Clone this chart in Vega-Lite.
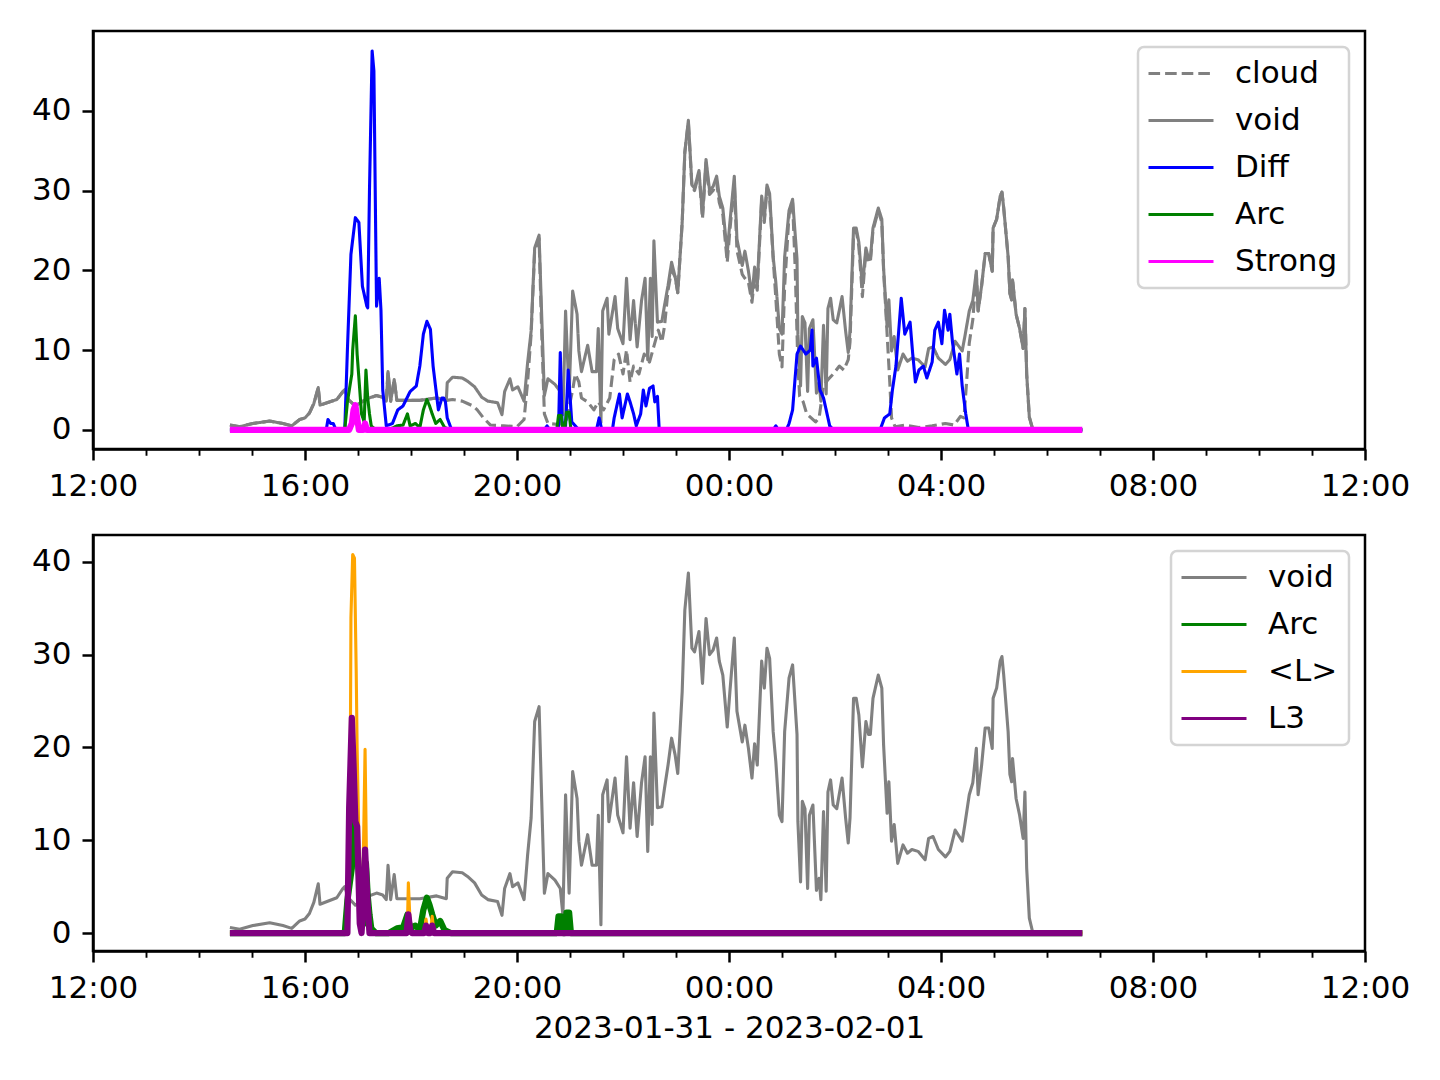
{
"$schema": "https://vega.github.io/schema/vega-lite/v6.json",
"padding": 29,
"background": "white",
"config": {
 "font": "DejaVu Sans",
 "view": {"stroke": "black", "strokeWidth": 2.5},
 "axis": {"labelFont": "DejaVu Sans", "labelFontSize": 31, "labelColor": "black", "domainColor": "black", "domainWidth": 2.5, "tickColor": "black", "tickWidth": 2.5, "tickSize": 11, "labelPadding": 11, "grid": false, "titleFont": "DejaVu Sans", "titleFontSize": 31, "titleFontWeight": "normal", "titleColor": "black"},
 "legend": {"orient": "top-right", "offset": 16, "padding": 11, "fillColor": "white", "strokeColor": "#d4d4d4", "strokeWidth": 2.5, "cornerRadius": 6, "labelFont": "DejaVu Sans", "labelFontSize": 31, "labelColor": "black", "rowPadding": 15, "labelOffset": 55, "symbolSize": 400, "symbolStrokeWidth": 3.1},
 "line": {"strokeJoin": "round", "strokeCap": "butt"}
},
"spacing": 30,
"data": {"values": [
{"s":"cloud","t":"2023-01-31T14:35","v":0.6},{"s":"cloud","t":"2023-01-31T14:46","v":0.4},{"s":"cloud","t":"2023-01-31T15:01","v":0.8},{"s":"cloud","t":"2023-01-31T15:20","v":1.1},{"s":"cloud","t":"2023-01-31T15:35","v":0.8},{"s":"cloud","t":"2023-01-31T15:45","v":0.5},{"s":"cloud","t":"2023-01-31T15:54","v":1.3},{"s":"cloud","t":"2023-01-31T16:00","v":1.5},{"s":"cloud","t":"2023-01-31T16:05","v":2.1},{"s":"cloud","t":"2023-01-31T16:10","v":3.3},{"s":"cloud","t":"2023-01-31T16:15","v":5.3},{"s":"cloud","t":"2023-01-31T16:17","v":3.1},{"s":"cloud","t":"2023-01-31T16:25","v":3.4},{"s":"cloud","t":"2023-01-31T16:36","v":3.8},{"s":"cloud","t":"2023-01-31T16:43","v":4.8},{"s":"cloud","t":"2023-01-31T16:45","v":5.0},{"s":"cloud","t":"2023-01-31T16:49","v":3.8},{"s":"cloud","t":"2023-01-31T16:57","v":3.0},{"s":"cloud","t":"2023-01-31T17:10","v":3.9},{"s":"cloud","t":"2023-01-31T17:21","v":4.3},{"s":"cloud","t":"2023-01-31T17:28","v":4.1},{"s":"cloud","t":"2023-01-31T17:32","v":3.6},{"s":"cloud","t":"2023-01-31T17:34","v":7.3},{"s":"cloud","t":"2023-01-31T17:37","v":3.6},{"s":"cloud","t":"2023-01-31T17:41","v":6.3},{"s":"cloud","t":"2023-01-31T17:44","v":3.7},{"s":"cloud","t":"2023-01-31T18:10","v":3.7},{"s":"cloud","t":"2023-01-31T18:29","v":4.0},{"s":"cloud","t":"2023-01-31T18:40","v":3.7},{"s":"cloud","t":"2023-01-31T18:47","v":3.8},{"s":"cloud","t":"2023-01-31T18:58","v":3.6},{"s":"cloud","t":"2023-01-31T19:04","v":3.3},{"s":"cloud","t":"2023-01-31T19:10","v":3.0},{"s":"cloud","t":"2023-01-31T19:15","v":2.5},{"s":"cloud","t":"2023-01-31T19:22","v":1.5},{"s":"cloud","t":"2023-01-31T19:30","v":0.6},{"s":"cloud","t":"2023-01-31T19:45","v":0.5},{"s":"cloud","t":"2023-01-31T20:00","v":0.4},{"s":"cloud","t":"2023-01-31T20:08","v":1.3},{"s":"cloud","t":"2023-01-31T20:12","v":6},{"s":"cloud","t":"2023-01-31T20:16","v":12},{"s":"cloud","t":"2023-01-31T20:20","v":22.5},{"s":"cloud","t":"2023-01-31T20:25","v":24},{"s":"cloud","t":"2023-01-31T20:28","v":12},{"s":"cloud","t":"2023-01-31T20:31","v":2},{"s":"cloud","t":"2023-01-31T20:35","v":0.8},{"s":"cloud","t":"2023-01-31T20:45","v":0.7},{"s":"cloud","t":"2023-01-31T20:55","v":0.8},{"s":"cloud","t":"2023-01-31T21:03","v":5},{"s":"cloud","t":"2023-01-31T21:06","v":7},{"s":"cloud","t":"2023-01-31T21:10","v":6},{"s":"cloud","t":"2023-01-31T21:13","v":4},{"s":"cloud","t":"2023-01-31T21:20","v":3.5},{"s":"cloud","t":"2023-01-31T21:27","v":2.5},{"s":"cloud","t":"2023-01-31T21:32","v":3.5},{"s":"cloud","t":"2023-01-31T21:38","v":2.5},{"s":"cloud","t":"2023-01-31T21:45","v":4},{"s":"cloud","t":"2023-01-31T21:50","v":8.8},{"s":"cloud","t":"2023-01-31T21:55","v":9.5},{"s":"cloud","t":"2023-01-31T22:00","v":7},{"s":"cloud","t":"2023-01-31T22:04","v":10},{"s":"cloud","t":"2023-01-31T22:08","v":6},{"s":"cloud","t":"2023-01-31T22:12","v":8},{"s":"cloud","t":"2023-01-31T22:18","v":7},{"s":"cloud","t":"2023-01-31T22:24","v":9.5},{"s":"cloud","t":"2023-01-31T22:30","v":8.5},{"s":"cloud","t":"2023-01-31T22:35","v":10.5},{"s":"cloud","t":"2023-01-31T22:40","v":12.5},{"s":"cloud","t":"2023-01-31T22:44","v":11},{"s":"cloud","t":"2023-01-31T22:47","v":13},{"s":"cloud","t":"2023-01-31T22:51","v":17.5},{"s":"cloud","t":"2023-01-31T22:55","v":20},{"s":"cloud","t":"2023-01-31T22:59","v":19.2},{"s":"cloud","t":"2023-01-31T23:02","v":17.2},{"s":"cloud","t":"2023-01-31T23:07","v":26.0},{"s":"cloud","t":"2023-01-31T23:10","v":34.8},{"s":"cloud","t":"2023-01-31T23:14","v":38.6},{"s":"cloud","t":"2023-01-31T23:18","v":30.5},{"s":"cloud","t":"2023-01-31T23:21","v":30.0},{"s":"cloud","t":"2023-01-31T23:26","v":32.2},{"s":"cloud","t":"2023-01-31T23:30","v":26.5},{"s":"cloud","t":"2023-01-31T23:34","v":33.5},{"s":"cloud","t":"2023-01-31T23:38","v":29.5},{"s":"cloud","t":"2023-01-31T23:42","v":30.0},{"s":"cloud","t":"2023-01-31T23:46","v":31.0},{"s":"cloud","t":"2023-01-31T23:49","v":28.5},{"s":"cloud","t":"2023-01-31T23:53","v":27.0},{"s":"cloud","t":"2023-01-31T23:58","v":21.0},{"s":"cloud","t":"2023-02-01T00:01","v":25.0},{"s":"cloud","t":"2023-02-01T00:06","v":31.0},{"s":"cloud","t":"2023-02-01T00:09","v":22.5},{"s":"cloud","t":"2023-02-01T00:15","v":19.5},{"s":"cloud","t":"2023-02-01T00:18","v":19.0},{"s":"cloud","t":"2023-02-01T00:22","v":18.5},{"s":"cloud","t":"2023-02-01T00:26","v":16.0},{"s":"cloud","t":"2023-02-01T00:29","v":19.0},{"s":"cloud","t":"2023-02-01T00:32","v":17.5},{"s":"cloud","t":"2023-02-01T00:37","v":28.8},{"s":"cloud","t":"2023-02-01T00:40","v":26.0},{"s":"cloud","t":"2023-02-01T00:43","v":30.3},{"s":"cloud","t":"2023-02-01T00:46","v":29.0},{"s":"cloud","t":"2023-02-01T00:50","v":21.5},{"s":"cloud","t":"2023-02-01T00:53","v":16.5},{"s":"cloud","t":"2023-02-01T00:57","v":9.5},{"s":"cloud","t":"2023-02-01T01:00","v":7.9},{"s":"cloud","t":"2023-02-01T01:03","v":18.0},{"s":"cloud","t":"2023-02-01T01:08","v":27.0},{"s":"cloud","t":"2023-02-01T01:12","v":28.5},{"s":"cloud","t":"2023-02-01T01:15","v":20.0},{"s":"cloud","t":"2023-02-01T01:18","v":8.0},{"s":"cloud","t":"2023-02-01T01:20","v":4.2},{"s":"cloud","t":"2023-02-01T01:24","v":3.5},{"s":"cloud","t":"2023-02-01T01:28","v":2.0},{"s":"cloud","t":"2023-02-01T01:33","v":1.5},{"s":"cloud","t":"2023-02-01T01:38","v":1.0},{"s":"cloud","t":"2023-02-01T01:42","v":1.5},{"s":"cloud","t":"2023-02-01T01:47","v":5.5},{"s":"cloud","t":"2023-02-01T01:52","v":6.3},{"s":"cloud","t":"2023-02-01T01:58","v":7.0},{"s":"cloud","t":"2023-02-01T02:05","v":8.0},{"s":"cloud","t":"2023-02-01T02:10","v":7.5},{"s":"cloud","t":"2023-02-01T02:15","v":8.8},{"s":"cloud","t":"2023-02-01T02:17","v":11.0},{"s":"cloud","t":"2023-02-01T02:21","v":24.5},{"s":"cloud","t":"2023-02-01T02:24","v":25.0},{"s":"cloud","t":"2023-02-01T02:27","v":23.0},{"s":"cloud","t":"2023-02-01T02:31","v":16.7},{"s":"cloud","t":"2023-02-01T02:35","v":22.5},{"s":"cloud","t":"2023-02-01T02:38","v":21.0},{"s":"cloud","t":"2023-02-01T02:40","v":21.0},{"s":"cloud","t":"2023-02-01T02:43","v":25.0},{"s":"cloud","t":"2023-02-01T02:49","v":27.5},{"s":"cloud","t":"2023-02-01T02:53","v":26.0},{"s":"cloud","t":"2023-02-01T02:55","v":20.0},{"s":"cloud","t":"2023-02-01T02:59","v":12.0},{"s":"cloud","t":"2023-02-01T03:02","v":6.0},{"s":"cloud","t":"2023-02-01T03:04","v":1.5},{"s":"cloud","t":"2023-02-01T03:08","v":0.4},{"s":"cloud","t":"2023-02-01T03:20","v":0.6},{"s":"cloud","t":"2023-02-01T03:35","v":0.3},{"s":"cloud","t":"2023-02-01T03:50","v":0.5},{"s":"cloud","t":"2023-02-01T04:05","v":0.8},{"s":"cloud","t":"2023-02-01T04:15","v":0.6},{"s":"cloud","t":"2023-02-01T04:22","v":1.7},{"s":"cloud","t":"2023-02-01T04:26","v":1.5},{"s":"cloud","t":"2023-02-01T04:29","v":6.0},{"s":"cloud","t":"2023-02-01T04:32","v":10.9},{"s":"cloud","t":"2023-02-01T04:36","v":13.8},{"s":"cloud","t":"2023-02-01T04:40","v":19.5},{"s":"cloud","t":"2023-02-01T04:42","v":14.9},{"s":"cloud","t":"2023-02-01T04:46","v":18.1},{"s":"cloud","t":"2023-02-01T04:50","v":22.1},{"s":"cloud","t":"2023-02-01T04:54","v":22.1},{"s":"cloud","t":"2023-02-01T04:58","v":19.9},{"s":"cloud","t":"2023-02-01T04:59","v":25.3},{"s":"cloud","t":"2023-02-01T05:03","v":26.4},{"s":"cloud","t":"2023-02-01T05:07","v":29.3},{"s":"cloud","t":"2023-02-01T05:09","v":29.8},{"s":"cloud","t":"2023-02-01T05:11","v":27.8},{"s":"cloud","t":"2023-02-01T05:16","v":21.7},{"s":"cloud","t":"2023-02-01T05:18","v":17.1},{"s":"cloud","t":"2023-02-01T05:20","v":16.3},{"s":"cloud","t":"2023-02-01T05:21","v":18.8},{"s":"cloud","t":"2023-02-01T05:25","v":14.5},{"s":"cloud","t":"2023-02-01T05:29","v":12.7},{"s":"cloud","t":"2023-02-01T05:33","v":10.2},{"s":"cloud","t":"2023-02-01T05:35","v":15.2},{"s":"cloud","t":"2023-02-01T05:37","v":7.0},{"s":"cloud","t":"2023-02-01T05:40","v":1.6},{"s":"cloud","t":"2023-02-01T05:44","v":0},{"s":"cloud","t":"2023-02-01T06:40","v":0},
{"s":"void","t":"2023-01-31T14:35","v":0.6},{"s":"void","t":"2023-01-31T14:46","v":0.4},{"s":"void","t":"2023-01-31T15:01","v":0.8},{"s":"void","t":"2023-01-31T15:20","v":1.1},{"s":"void","t":"2023-01-31T15:35","v":0.8},{"s":"void","t":"2023-01-31T15:45","v":0.5},{"s":"void","t":"2023-01-31T15:54","v":1.3},{"s":"void","t":"2023-01-31T16:00","v":1.5},{"s":"void","t":"2023-01-31T16:05","v":2.1},{"s":"void","t":"2023-01-31T16:10","v":3.3},{"s":"void","t":"2023-01-31T16:15","v":5.3},{"s":"void","t":"2023-01-31T16:17","v":3.1},{"s":"void","t":"2023-01-31T16:25","v":3.4},{"s":"void","t":"2023-01-31T16:36","v":3.8},{"s":"void","t":"2023-01-31T16:43","v":4.8},{"s":"void","t":"2023-01-31T16:45","v":5.0},{"s":"void","t":"2023-01-31T16:49","v":3.8},{"s":"void","t":"2023-01-31T16:57","v":3.0},{"s":"void","t":"2023-01-31T17:10","v":3.9},{"s":"void","t":"2023-01-31T17:21","v":4.3},{"s":"void","t":"2023-01-31T17:28","v":4.1},{"s":"void","t":"2023-01-31T17:32","v":3.6},{"s":"void","t":"2023-01-31T17:34","v":7.3},{"s":"void","t":"2023-01-31T17:37","v":3.6},{"s":"void","t":"2023-01-31T17:41","v":6.3},{"s":"void","t":"2023-01-31T17:44","v":3.7},{"s":"void","t":"2023-01-31T18:10","v":3.7},{"s":"void","t":"2023-01-31T18:29","v":4.0},{"s":"void","t":"2023-01-31T18:40","v":3.7},{"s":"void","t":"2023-01-31T18:41","v":5.9},{"s":"void","t":"2023-01-31T18:47","v":6.6},{"s":"void","t":"2023-01-31T18:58","v":6.5},{"s":"void","t":"2023-01-31T19:04","v":6.1},{"s":"void","t":"2023-01-31T19:12","v":5.4},{"s":"void","t":"2023-01-31T19:20","v":4.1},{"s":"void","t":"2023-01-31T19:27","v":3.6},{"s":"void","t":"2023-01-31T19:38","v":3.4},{"s":"void","t":"2023-01-31T19:43","v":1.9},{"s":"void","t":"2023-01-31T19:46","v":4.8},{"s":"void","t":"2023-01-31T19:52","v":6.4},{"s":"void","t":"2023-01-31T19:55","v":5.0},{"s":"void","t":"2023-01-31T20:01","v":5.4},{"s":"void","t":"2023-01-31T20:08","v":3.6},{"s":"void","t":"2023-01-31T20:12","v":8.4},{"s":"void","t":"2023-01-31T20:16","v":12.4},{"s":"void","t":"2023-01-31T20:20","v":22.8},{"s":"void","t":"2023-01-31T20:25","v":24.4},{"s":"void","t":"2023-01-31T20:28","v":14.2},{"s":"void","t":"2023-01-31T20:31","v":4.3},{"s":"void","t":"2023-01-31T20:35","v":6.4},{"s":"void","t":"2023-01-31T20:43","v":5.7},{"s":"void","t":"2023-01-31T20:49","v":4.8},{"s":"void","t":"2023-01-31T20:52","v":1.9},{"s":"void","t":"2023-01-31T20:55","v":14.9},{"s":"void","t":"2023-01-31T20:59","v":4.3},{"s":"void","t":"2023-01-31T21:03","v":17.4},{"s":"void","t":"2023-01-31T21:08","v":14.5},{"s":"void","t":"2023-01-31T21:10","v":9.9},{"s":"void","t":"2023-01-31T21:13","v":7.3},{"s":"void","t":"2023-01-31T21:20","v":10.6},{"s":"void","t":"2023-01-31T21:25","v":7.3},{"s":"void","t":"2023-01-31T21:30","v":7.3},{"s":"void","t":"2023-01-31T21:32","v":12.7},{"s":"void","t":"2023-01-31T21:35","v":0.9},{"s":"void","t":"2023-01-31T21:37","v":14.9},{"s":"void","t":"2023-01-31T21:42","v":16.5},{"s":"void","t":"2023-01-31T21:44","v":12.0},{"s":"void","t":"2023-01-31T21:51","v":16.7},{"s":"void","t":"2023-01-31T21:54","v":12.7},{"s":"void","t":"2023-01-31T22:00","v":10.8},{"s":"void","t":"2023-01-31T22:04","v":19.0},{"s":"void","t":"2023-01-31T22:08","v":11.3},{"s":"void","t":"2023-01-31T22:12","v":16.2},{"s":"void","t":"2023-01-31T22:16","v":10.4},{"s":"void","t":"2023-01-31T22:21","v":16.2},{"s":"void","t":"2023-01-31T22:25","v":19.0},{"s":"void","t":"2023-01-31T22:28","v":8.8},{"s":"void","t":"2023-01-31T22:31","v":19.0},{"s":"void","t":"2023-01-31T22:33","v":11.7},{"s":"void","t":"2023-01-31T22:35","v":23.7},{"s":"void","t":"2023-01-31T22:39","v":13.5},{"s":"void","t":"2023-01-31T22:44","v":13.6},{"s":"void","t":"2023-01-31T22:47","v":15.6},{"s":"void","t":"2023-01-31T22:51","v":18.1},{"s":"void","t":"2023-01-31T22:55","v":21.0},{"s":"void","t":"2023-01-31T22:59","v":19.2},{"s":"void","t":"2023-01-31T23:02","v":17.2},{"s":"void","t":"2023-01-31T23:07","v":26.0},{"s":"void","t":"2023-01-31T23:10","v":34.8},{"s":"void","t":"2023-01-31T23:14","v":38.8},{"s":"void","t":"2023-01-31T23:18","v":30.7},{"s":"void","t":"2023-01-31T23:21","v":30.3},{"s":"void","t":"2023-01-31T23:26","v":32.5},{"s":"void","t":"2023-01-31T23:30","v":26.9},{"s":"void","t":"2023-01-31T23:34","v":33.9},{"s":"void","t":"2023-01-31T23:38","v":30.0},{"s":"void","t":"2023-01-31T23:42","v":30.5},{"s":"void","t":"2023-01-31T23:46","v":31.8},{"s":"void","t":"2023-01-31T23:49","v":29.3},{"s":"void","t":"2023-01-31T23:53","v":27.8},{"s":"void","t":"2023-01-31T23:58","v":22.2},{"s":"void","t":"2023-02-01T00:01","v":26.0},{"s":"void","t":"2023-02-01T00:06","v":31.8},{"s":"void","t":"2023-02-01T00:09","v":23.9},{"s":"void","t":"2023-02-01T00:15","v":20.6},{"s":"void","t":"2023-02-01T00:18","v":22.4},{"s":"void","t":"2023-02-01T00:22","v":19.9},{"s":"void","t":"2023-02-01T00:26","v":16.7},{"s":"void","t":"2023-02-01T00:29","v":20.4},{"s":"void","t":"2023-02-01T00:32","v":18.1},{"s":"void","t":"2023-02-01T00:37","v":29.3},{"s":"void","t":"2023-02-01T00:40","v":26.4},{"s":"void","t":"2023-02-01T00:43","v":30.7},{"s":"void","t":"2023-02-01T00:46","v":29.6},{"s":"void","t":"2023-02-01T00:50","v":21.7},{"s":"void","t":"2023-02-01T00:53","v":18.5},{"s":"void","t":"2023-02-01T00:57","v":12.7},{"s":"void","t":"2023-02-01T01:00","v":12.0},{"s":"void","t":"2023-02-01T01:03","v":21.7},{"s":"void","t":"2023-02-01T01:08","v":27.5},{"s":"void","t":"2023-02-01T01:12","v":28.9},{"s":"void","t":"2023-02-01T01:17","v":21.4},{"s":"void","t":"2023-02-01T01:18","v":12.0},{"s":"void","t":"2023-02-01T01:21","v":5.5},{"s":"void","t":"2023-02-01T01:23","v":14.2},{"s":"void","t":"2023-02-01T01:26","v":13.4},{"s":"void","t":"2023-02-01T01:29","v":4.8},{"s":"void","t":"2023-02-01T01:31","v":12.7},{"s":"void","t":"2023-02-01T01:35","v":13.8},{"s":"void","t":"2023-02-01T01:39","v":4.6},{"s":"void","t":"2023-02-01T01:42","v":5.9},{"s":"void","t":"2023-02-01T01:44","v":3.6},{"s":"void","t":"2023-02-01T01:47","v":13.1},{"s":"void","t":"2023-02-01T01:50","v":4.5},{"s":"void","t":"2023-02-01T01:52","v":15.2},{"s":"void","t":"2023-02-01T01:55","v":16.5},{"s":"void","t":"2023-02-01T01:58","v":13.8},{"s":"void","t":"2023-02-01T02:02","v":13.4},{"s":"void","t":"2023-02-01T02:08","v":16.7},{"s":"void","t":"2023-02-01T02:12","v":12.4},{"s":"void","t":"2023-02-01T02:15","v":9.7},{"s":"void","t":"2023-02-01T02:17","v":12.4},{"s":"void","t":"2023-02-01T02:21","v":25.3},{"s":"void","t":"2023-02-01T02:24","v":25.3},{"s":"void","t":"2023-02-01T02:27","v":23.5},{"s":"void","t":"2023-02-01T02:31","v":17.9},{"s":"void","t":"2023-02-01T02:35","v":22.8},{"s":"void","t":"2023-02-01T02:38","v":21.4},{"s":"void","t":"2023-02-01T02:40","v":21.4},{"s":"void","t":"2023-02-01T02:43","v":25.3},{"s":"void","t":"2023-02-01T02:49","v":27.8},{"s":"void","t":"2023-02-01T02:53","v":26.4},{"s":"void","t":"2023-02-01T02:55","v":20.3},{"s":"void","t":"2023-02-01T02:59","v":12.9},{"s":"void","t":"2023-02-01T03:01","v":16.3},{"s":"void","t":"2023-02-01T03:04","v":9.9},{"s":"void","t":"2023-02-01T03:07","v":11.7},{"s":"void","t":"2023-02-01T03:11","v":7.5},{"s":"void","t":"2023-02-01T03:17","v":9.5},{"s":"void","t":"2023-02-01T03:22","v":8.6},{"s":"void","t":"2023-02-01T03:27","v":9.0},{"s":"void","t":"2023-02-01T03:34","v":8.8},{"s":"void","t":"2023-02-01T03:42","v":7.9},{"s":"void","t":"2023-02-01T03:46","v":10.2},{"s":"void","t":"2023-02-01T03:51","v":10.4},{"s":"void","t":"2023-02-01T03:57","v":9.0},{"s":"void","t":"2023-02-01T04:05","v":8.2},{"s":"void","t":"2023-02-01T04:10","v":8.8},{"s":"void","t":"2023-02-01T04:16","v":11.1},{"s":"void","t":"2023-02-01T04:24","v":9.9},{"s":"void","t":"2023-02-01T04:27","v":11.7},{"s":"void","t":"2023-02-01T04:32","v":14.9},{"s":"void","t":"2023-02-01T04:36","v":16.2},{"s":"void","t":"2023-02-01T04:40","v":19.9},{"s":"void","t":"2023-02-01T04:42","v":14.9},{"s":"void","t":"2023-02-01T04:46","v":18.1},{"s":"void","t":"2023-02-01T04:50","v":22.1},{"s":"void","t":"2023-02-01T04:54","v":22.1},{"s":"void","t":"2023-02-01T04:58","v":19.9},{"s":"void","t":"2023-02-01T04:59","v":25.3},{"s":"void","t":"2023-02-01T05:03","v":26.4},{"s":"void","t":"2023-02-01T05:07","v":29.3},{"s":"void","t":"2023-02-01T05:09","v":29.8},{"s":"void","t":"2023-02-01T05:11","v":27.8},{"s":"void","t":"2023-02-01T05:16","v":21.7},{"s":"void","t":"2023-02-01T05:18","v":17.1},{"s":"void","t":"2023-02-01T05:20","v":16.3},{"s":"void","t":"2023-02-01T05:21","v":18.8},{"s":"void","t":"2023-02-01T05:25","v":14.5},{"s":"void","t":"2023-02-01T05:29","v":12.7},{"s":"void","t":"2023-02-01T05:33","v":10.2},{"s":"void","t":"2023-02-01T05:35","v":15.2},{"s":"void","t":"2023-02-01T05:37","v":7.0},{"s":"void","t":"2023-02-01T05:40","v":1.6},{"s":"void","t":"2023-02-01T05:44","v":0},{"s":"void","t":"2023-02-01T06:40","v":0},
{"s":"Diff","t":"2023-01-31T14:35","v":0},{"s":"Diff","t":"2023-01-31T16:24","v":0},{"s":"Diff","t":"2023-01-31T16:26","v":1.3},{"s":"Diff","t":"2023-01-31T16:29","v":0.8},{"s":"Diff","t":"2023-01-31T16:32","v":0.8},{"s":"Diff","t":"2023-01-31T16:35","v":0},{"s":"Diff","t":"2023-01-31T16:45","v":0},{"s":"Diff","t":"2023-01-31T16:48","v":10},{"s":"Diff","t":"2023-01-31T16:52","v":22},{"s":"Diff","t":"2023-01-31T16:57","v":26.6},{"s":"Diff","t":"2023-01-31T17:01","v":26.0},{"s":"Diff","t":"2023-01-31T17:05","v":18},{"s":"Diff","t":"2023-01-31T17:10","v":15.5},{"s":"Diff","t":"2023-01-31T17:11","v":15.3},{"s":"Diff","t":"2023-01-31T17:13","v":30},{"s":"Diff","t":"2023-01-31T17:16","v":47.5},{"s":"Diff","t":"2023-01-31T17:18","v":45},{"s":"Diff","t":"2023-01-31T17:20","v":25},{"s":"Diff","t":"2023-01-31T17:21","v":15.5},{"s":"Diff","t":"2023-01-31T17:24","v":19},{"s":"Diff","t":"2023-01-31T17:26","v":15},{"s":"Diff","t":"2023-01-31T17:28","v":5},{"s":"Diff","t":"2023-01-31T17:32","v":0.5},{"s":"Diff","t":"2023-01-31T17:39","v":0.8},{"s":"Diff","t":"2023-01-31T17:45","v":2.5},{"s":"Diff","t":"2023-01-31T17:51","v":3},{"s":"Diff","t":"2023-01-31T17:59","v":4.8},{"s":"Diff","t":"2023-01-31T18:06","v":5.5},{"s":"Diff","t":"2023-01-31T18:10","v":8},{"s":"Diff","t":"2023-01-31T18:14","v":12},{"s":"Diff","t":"2023-01-31T18:18","v":13.6},{"s":"Diff","t":"2023-01-31T18:22","v":12.6},{"s":"Diff","t":"2023-01-31T18:25","v":8},{"s":"Diff","t":"2023-01-31T18:31","v":2.5},{"s":"Diff","t":"2023-01-31T18:35","v":4},{"s":"Diff","t":"2023-01-31T18:37","v":4},{"s":"Diff","t":"2023-01-31T18:39","v":3.5},{"s":"Diff","t":"2023-01-31T18:41","v":1.5},{"s":"Diff","t":"2023-01-31T18:46","v":0},{"s":"Diff","t":"2023-01-31T20:31","v":0},{"s":"Diff","t":"2023-01-31T20:34","v":0.5},{"s":"Diff","t":"2023-01-31T20:37","v":0},{"s":"Diff","t":"2023-01-31T20:47","v":0},{"s":"Diff","t":"2023-01-31T20:49","v":9.7},{"s":"Diff","t":"2023-01-31T20:51","v":1},{"s":"Diff","t":"2023-01-31T20:55","v":0.5},{"s":"Diff","t":"2023-01-31T20:58","v":7.5},{"s":"Diff","t":"2023-01-31T21:02","v":1},{"s":"Diff","t":"2023-01-31T21:06","v":0.5},{"s":"Diff","t":"2023-01-31T21:10","v":0},{"s":"Diff","t":"2023-01-31T21:30","v":0},{"s":"Diff","t":"2023-01-31T21:33","v":1.5},{"s":"Diff","t":"2023-01-31T21:36","v":0},{"s":"Diff","t":"2023-01-31T21:48","v":0},{"s":"Diff","t":"2023-01-31T21:50","v":1.5},{"s":"Diff","t":"2023-01-31T21:53","v":3},{"s":"Diff","t":"2023-01-31T21:56","v":4.5},{"s":"Diff","t":"2023-01-31T21:59","v":1.5},{"s":"Diff","t":"2023-01-31T22:02","v":3},{"s":"Diff","t":"2023-01-31T22:05","v":4.5},{"s":"Diff","t":"2023-01-31T22:08","v":3.5},{"s":"Diff","t":"2023-01-31T22:12","v":2},{"s":"Diff","t":"2023-01-31T22:15","v":0.5},{"s":"Diff","t":"2023-01-31T22:20","v":2},{"s":"Diff","t":"2023-01-31T22:23","v":5},{"s":"Diff","t":"2023-01-31T22:26","v":3},{"s":"Diff","t":"2023-01-31T22:30","v":5.2},{"s":"Diff","t":"2023-01-31T22:34","v":5.5},{"s":"Diff","t":"2023-01-31T22:36","v":3.5},{"s":"Diff","t":"2023-01-31T22:39","v":4.2},{"s":"Diff","t":"2023-01-31T22:41","v":0},{"s":"Diff","t":"2023-02-01T00:50","v":0},{"s":"Diff","t":"2023-02-01T00:53","v":0.5},{"s":"Diff","t":"2023-02-01T00:56","v":0},{"s":"Diff","t":"2023-02-01T01:05","v":0},{"s":"Diff","t":"2023-02-01T01:08","v":0.8},{"s":"Diff","t":"2023-02-01T01:12","v":2.5},{"s":"Diff","t":"2023-02-01T01:17","v":9.5},{"s":"Diff","t":"2023-02-01T01:21","v":10.5},{"s":"Diff","t":"2023-02-01T01:27","v":9.5},{"s":"Diff","t":"2023-02-01T01:32","v":10},{"s":"Diff","t":"2023-02-01T01:34","v":12.5},{"s":"Diff","t":"2023-02-01T01:35","v":8},{"s":"Diff","t":"2023-02-01T01:39","v":9},{"s":"Diff","t":"2023-02-01T01:43","v":5},{"s":"Diff","t":"2023-02-01T01:47","v":4},{"s":"Diff","t":"2023-02-01T01:51","v":2},{"s":"Diff","t":"2023-02-01T01:54","v":0.5},{"s":"Diff","t":"2023-02-01T01:58","v":0},{"s":"Diff","t":"2023-02-01T02:51","v":0},{"s":"Diff","t":"2023-02-01T02:56","v":1.5},{"s":"Diff","t":"2023-02-01T03:02","v":2},{"s":"Diff","t":"2023-02-01T03:05","v":5},{"s":"Diff","t":"2023-02-01T03:09","v":8},{"s":"Diff","t":"2023-02-01T03:15","v":16.5},{"s":"Diff","t":"2023-02-01T03:19","v":12},{"s":"Diff","t":"2023-02-01T03:25","v":13.5},{"s":"Diff","t":"2023-02-01T03:28","v":9.5},{"s":"Diff","t":"2023-02-01T03:31","v":6},{"s":"Diff","t":"2023-02-01T03:35","v":7.5},{"s":"Diff","t":"2023-02-01T03:40","v":8},{"s":"Diff","t":"2023-02-01T03:44","v":6.5},{"s":"Diff","t":"2023-02-01T03:50","v":8.5},{"s":"Diff","t":"2023-02-01T03:53","v":12.5},{"s":"Diff","t":"2023-02-01T03:57","v":13.5},{"s":"Diff","t":"2023-02-01T04:01","v":10.8},{"s":"Diff","t":"2023-02-01T04:04","v":15},{"s":"Diff","t":"2023-02-01T04:08","v":12.5},{"s":"Diff","t":"2023-02-01T04:10","v":14.5},{"s":"Diff","t":"2023-02-01T04:13","v":11},{"s":"Diff","t":"2023-02-01T04:18","v":7},{"s":"Diff","t":"2023-02-01T04:21","v":9.5},{"s":"Diff","t":"2023-02-01T04:24","v":5.5},{"s":"Diff","t":"2023-02-01T04:28","v":2},{"s":"Diff","t":"2023-02-01T04:31","v":0},{"s":"Diff","t":"2023-02-01T06:40","v":0},
{"s":"Arc","t":"2023-01-31T14:35","v":0},{"s":"Arc","t":"2023-01-31T16:45","v":0},{"s":"Arc","t":"2023-01-31T16:48","v":3.5},{"s":"Arc","t":"2023-01-31T16:53","v":7},{"s":"Arc","t":"2023-01-31T16:54","v":10},{"s":"Arc","t":"2023-01-31T16:57","v":14.3},{"s":"Arc","t":"2023-01-31T16:59","v":9.5},{"s":"Arc","t":"2023-01-31T17:01","v":6.5},{"s":"Arc","t":"2023-01-31T17:04","v":2},{"s":"Arc","t":"2023-01-31T17:07","v":1},{"s":"Arc","t":"2023-01-31T17:09","v":7.5},{"s":"Arc","t":"2023-01-31T17:11","v":4},{"s":"Arc","t":"2023-01-31T17:13","v":2},{"s":"Arc","t":"2023-01-31T17:15","v":0.5},{"s":"Arc","t":"2023-01-31T17:20","v":0},{"s":"Arc","t":"2023-01-31T17:35","v":0},{"s":"Arc","t":"2023-01-31T17:44","v":0.5},{"s":"Arc","t":"2023-01-31T17:51","v":0.6},{"s":"Arc","t":"2023-01-31T17:56","v":2},{"s":"Arc","t":"2023-01-31T17:59","v":0.5},{"s":"Arc","t":"2023-01-31T18:05","v":0.8},{"s":"Arc","t":"2023-01-31T18:10","v":0.3},{"s":"Arc","t":"2023-01-31T18:14","v":2.5},{"s":"Arc","t":"2023-01-31T18:18","v":3.8},{"s":"Arc","t":"2023-01-31T18:21","v":3},{"s":"Arc","t":"2023-01-31T18:24","v":2},{"s":"Arc","t":"2023-01-31T18:28","v":0.8},{"s":"Arc","t":"2023-01-31T18:33","v":1.3},{"s":"Arc","t":"2023-01-31T18:38","v":0.3},{"s":"Arc","t":"2023-01-31T18:45","v":0},{"s":"Arc","t":"2023-01-31T20:45","v":0},{"s":"Arc","t":"2023-01-31T20:47","v":1.8},{"s":"Arc","t":"2023-01-31T20:50","v":1.8},{"s":"Arc","t":"2023-01-31T20:52","v":0},{"s":"Arc","t":"2023-01-31T20:54","v":0},{"s":"Arc","t":"2023-01-31T20:56","v":2.2},{"s":"Arc","t":"2023-01-31T20:59","v":2.2},{"s":"Arc","t":"2023-01-31T21:01","v":0},{"s":"Arc","t":"2023-02-01T06:40","v":0},
{"s":"Strong","t":"2023-01-31T14:35","v":0},{"s":"Strong","t":"2023-01-31T16:50","v":0},{"s":"Strong","t":"2023-01-31T16:53","v":0.8},{"s":"Strong","t":"2023-01-31T16:55","v":2.5},{"s":"Strong","t":"2023-01-31T16:57","v":3.1},{"s":"Strong","t":"2023-01-31T16:59","v":1.5},{"s":"Strong","t":"2023-01-31T17:01","v":0},{"s":"Strong","t":"2023-01-31T17:06","v":0},{"s":"Strong","t":"2023-01-31T17:08","v":0.8},{"s":"Strong","t":"2023-01-31T17:10","v":0},{"s":"Strong","t":"2023-02-01T06:40","v":0},
{"s":"<L>","t":"2023-01-31T14:35","v":0},{"s":"<L>","t":"2023-01-31T16:48","v":0},{"s":"<L>","t":"2023-01-31T16:51","v":12},{"s":"<L>","t":"2023-01-31T16:52","v":34},{"s":"<L>","t":"2023-01-31T16:54","v":40.8},{"s":"<L>","t":"2023-01-31T16:56","v":40.4},{"s":"<L>","t":"2023-01-31T16:58","v":28},{"s":"<L>","t":"2023-01-31T16:59","v":20},{"s":"<L>","t":"2023-01-31T17:01","v":10},{"s":"<L>","t":"2023-01-31T17:03","v":1},{"s":"<L>","t":"2023-01-31T17:05","v":0},{"s":"<L>","t":"2023-01-31T17:06","v":8},{"s":"<L>","t":"2023-01-31T17:08","v":19.8},{"s":"<L>","t":"2023-01-31T17:10","v":5},{"s":"<L>","t":"2023-01-31T17:12","v":0},{"s":"<L>","t":"2023-01-31T17:54","v":0},{"s":"<L>","t":"2023-01-31T17:56","v":1},{"s":"<L>","t":"2023-01-31T17:57","v":5.4},{"s":"<L>","t":"2023-01-31T17:59","v":1},{"s":"<L>","t":"2023-01-31T18:01","v":0},{"s":"<L>","t":"2023-01-31T18:15","v":0},{"s":"<L>","t":"2023-01-31T18:17","v":1.5},{"s":"<L>","t":"2023-01-31T18:19","v":0},{"s":"<L>","t":"2023-01-31T18:22","v":0},{"s":"<L>","t":"2023-01-31T18:24","v":1.8},{"s":"<L>","t":"2023-01-31T18:26","v":0},{"s":"<L>","t":"2023-02-01T06:40","v":0},
{"s":"L3","t":"2023-01-31T14:35","v":0},{"s":"L3","t":"2023-01-31T16:48","v":0},{"s":"L3","t":"2023-01-31T16:50","v":13.5},{"s":"L3","t":"2023-01-31T16:53","v":23.2},{"s":"L3","t":"2023-01-31T16:55","v":18},{"s":"L3","t":"2023-01-31T16:57","v":12},{"s":"L3","t":"2023-01-31T16:59","v":11.5},{"s":"L3","t":"2023-01-31T17:02","v":1},{"s":"L3","t":"2023-01-31T17:04","v":0},{"s":"L3","t":"2023-01-31T17:06","v":3},{"s":"L3","t":"2023-01-31T17:08","v":9},{"s":"L3","t":"2023-01-31T17:11","v":3},{"s":"L3","t":"2023-01-31T17:13","v":0},{"s":"L3","t":"2023-01-31T17:55","v":0},{"s":"L3","t":"2023-01-31T17:57","v":2},{"s":"L3","t":"2023-01-31T17:59","v":0.3},{"s":"L3","t":"2023-01-31T18:01","v":0},{"s":"L3","t":"2023-01-31T18:15","v":0},{"s":"L3","t":"2023-01-31T18:17","v":0.8},{"s":"L3","t":"2023-01-31T18:19","v":0},{"s":"L3","t":"2023-01-31T18:22","v":0},{"s":"L3","t":"2023-01-31T18:24","v":0.8},{"s":"L3","t":"2023-01-31T18:26","v":0},{"s":"L3","t":"2023-02-01T06:40","v":0}
]},
"vconcat": [
 {
  "width": 1272, "height": 418,
  "encoding": {
   "x": {"field": "t", "type": "temporal",
     "scale": {"domain": [{"year": 2023, "month": 1, "date": 31, "hours": 12}, {"year": 2023, "month": 2, "date": 1, "hours": 12}]},
     "axis": {"title": null, "tickCount": 24, "labelExpr": "hours(datum.value) % 4 == 0 ? timeFormat(datum.value, '%H:%M') : ''", "labelOverlap": false, "labelFlush": false,
       "tickSize": {"condition": {"test": "hours(datum.value) % 4 == 0", "value": 11}, "value": 6.25},
       "tickWidth": {"condition": {"test": "hours(datum.value) % 4 == 0", "value": 2.5}, "value": 1.9}}},
   "y": {"field": "v", "type": "quantitative", "scale": {"domain": [-2.4, 50], "nice": false, "zero": false}, "axis": {"title": null, "values": [0, 10, 20, 30, 40], "minExtent": 62, "maxExtent": 62}},
   "color": {"field": "s", "type": "nominal", "scale": {"domain": ["cloud", "void", "Diff", "Arc", "Strong"], "range": ["#808080", "#808080", "#0000ff", "#008000", "#ff00ff"]},
     "legend": {"title": null, "symbolType": "M-1.6,0L4.9,0", "symbolSize": 400, "encode": {"symbols": {"update": {"strokeWidth": {"signal": "datum.value == 'Strong' ? 6.25 : 3.1"}}}}}},
   "strokeDash": {"field": "s", "type": "nominal", "scale": {"domain": ["cloud", "void", "Diff", "Arc", "Strong"], "range": [[11.6, 5], [1, 0], [1, 0], [1, 0], [1, 0]]},
     "legend": {"title": null, "symbolType": "M-1.6,0L4.9,0", "symbolSize": 400, "encode": {"symbols": {"update": {"strokeWidth": {"signal": "datum.value == 'Strong' ? 6.25 : 3.1"}}}}}}
  },
  "layer": [
   {"transform": [{"filter": "datum.s == 'cloud'"}], "mark": {"type": "line", "strokeWidth": 3.1}},
   {"transform": [{"filter": "datum.s == 'void'"}], "mark": {"type": "line", "strokeWidth": 3.1}},
   {"transform": [{"filter": "datum.s == 'Diff'"}], "mark": {"type": "line", "strokeWidth": 3.1}},
   {"transform": [{"filter": "datum.s == 'Arc'"}], "mark": {"type": "line", "strokeWidth": 3.1}},
   {"transform": [{"filter": "datum.s == 'Strong'"}], "mark": {"type": "line", "strokeWidth": 6.25}}
  ]
 },
 {
  "width": 1272, "height": 416,
  "encoding": {
   "x": {"field": "t", "type": "temporal",
     "scale": {"domain": [{"year": 2023, "month": 1, "date": 31, "hours": 12}, {"year": 2023, "month": 2, "date": 1, "hours": 12}]},
     "axis": {"title": "2023-01-31 - 2023-02-01", "titlePadding": 10, "tickCount": 24, "labelExpr": "hours(datum.value) % 4 == 0 ? timeFormat(datum.value, '%H:%M') : ''", "labelOverlap": false, "labelFlush": false,
       "tickSize": {"condition": {"test": "hours(datum.value) % 4 == 0", "value": 11}, "value": 6.25},
       "tickWidth": {"condition": {"test": "hours(datum.value) % 4 == 0", "value": 2.5}, "value": 1.9}}},
   "y": {"field": "v", "type": "quantitative", "scale": {"domain": [-1.94, 42.9], "nice": false, "zero": false}, "axis": {"title": null, "values": [0, 10, 20, 30, 40], "minExtent": 62, "maxExtent": 62}},
   "color": {"field": "s", "type": "nominal", "scale": {"domain": ["void", "Arc", "<L>", "L3"], "range": ["#808080", "#008000", "#ffa500", "#800080"]},
     "legend": {"title": null, "symbolType": "M-1.6,0L4.9,0", "symbolSize": 400, "encode": {"symbols": {"update": {"strokeWidth": {"signal": "datum.value == 'Arc' || datum.value == 'L3' ? 6.25 : 3.1"}}}}}}
  },
  "layer": [
   {"transform": [{"filter": "datum.s == 'void'"}], "mark": {"type": "line", "strokeWidth": 3.1}},
   {"transform": [{"filter": "datum.s == 'Arc'"}], "mark": {"type": "line", "strokeWidth": 6.25}},
   {"transform": [{"filter": "datum.s == '<L>'"}], "mark": {"type": "line", "strokeWidth": 3.1}},
   {"transform": [{"filter": "datum.s == 'L3'"}], "mark": {"type": "line", "strokeWidth": 6.25}}
  ]
 }
],
"resolve": {"scale": {"color": "independent", "strokeDash": "independent", "y": "independent"}}
}
